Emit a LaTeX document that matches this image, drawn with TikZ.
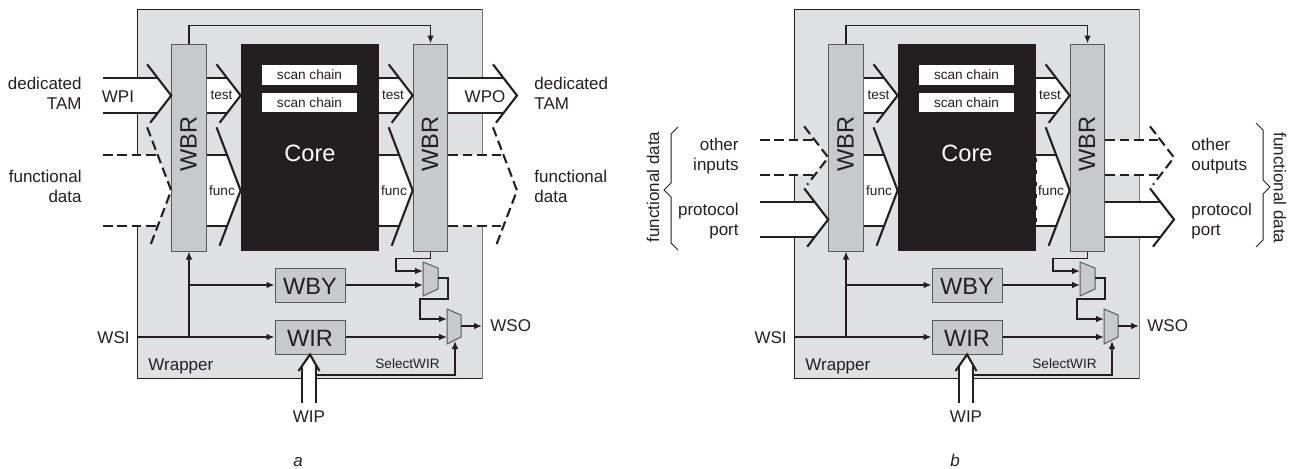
\documentclass[tikz,border=0pt]{standalone}
\usepackage{fontspec}
\setmainfont{Liberation Sans}
\usetikzlibrary{positioning, arrows.meta, calc}

\definecolor{ink}{HTML}{231F20}
\definecolor{wrapfill}{HTML}{DFE0E2}
\definecolor{regfill}{HTML}{C8C9CB}
\definecolor{regline}{HTML}{58595B}

\tikzset{
    lbl/.style={font=\fontsize{8.5}{10}\selectfont, text=ink, inner sep=0pt},
    tiny/.style={font=\fontsize{6.8}{8}\selectfont, text=ink, inner sep=0pt},
    big/.style={font=\fontsize{11.8}{14}\selectfont, text=ink, inner sep=0pt},
    reg/.style={draw=regline, fill=regfill, line width=0.5pt, inner sep=0pt},
    wbr/.style={reg, minimum width=17.3pt, minimum height=103.5pt},
    wb/.style={reg, minimum width=35pt, minimum height=17pt},
    chain/.style={fill=white, inner sep=0pt, minimum width=47.5pt, minimum height=9.8pt, tiny},
    sig/.style={draw=ink, line width=0.95pt, -{Latex[length=4pt,width=3.4pt]}},
    busline/.style={draw=ink, line width=1.05pt},
    dashbus/.style={dash pattern=on 4.8pt off 2.4pt},
    mux/.style={draw=regline, fill=regfill, line width=0.5pt, line join=miter},
}

% style, start, apex, top y, bottom y
\newcommand{\busarrow}[5]{
    \coordinate (busB) at (#3 |- 0,#4);
    \coordinate (busC) at (#3 |- 0,#5);
    \coordinate (busA) at ($(busB)!.5!(busC)$);
    \coordinate (busU) at ($(busB)+(-13.5,0)$);
    \coordinate (busL) at ($(busC)+(-13.5,0)$);
    \fill[white] (#2 |- busB) -- (busU) -- (busA) -- (busL) -- (#2 |- busC) -- cycle;
    \draw[busline,#1] (#2 |- busB) -- (busU) (#2 |- busC) -- (busL);
    \draw[busline,#1] ($(busA)!1.78!(busU)$) -- (busA) -- ($(busA)!1.556!(busL)$);
}

\newcommand{\wrapperpanel}[1]{
    \node[draw=ink, fill=wrapfill, line width=0.5pt, minimum width=172.5pt, minimum height=184.5pt, inner sep=0pt] (wrapper) at (309.5,193.5) {};
    \draw[regline!80, line width=0.6pt] (wrapper.north east) -- (wrapper.south east);
    \coordinate (leftEnd) at (103,0);
    \coordinate (rightApex) at (517,0);

    \node[wbr] (wbrL) at (189,147.5) {};
    \node[wbr] (wbrR) at (430.5,147.5) {};
    \node[fill=ink, inner sep=0pt, minimum width=69pt, minimum height=103.5pt] (core) at (310,147.5) {};
    \node[chain] (chainA) at (309.5,75) {scan chain};
    \node[chain] (chainB) at (309.5,102.5) {scan chain};
    \node[big, text=white] (coreText) at (310,153) {Core};
    \node[big, rotate=90] (wbrLtext) at (188.5,144) {WBR};
    \node[big, rotate=90] (wbrRtext) at (430,144) {WBR};

    % inner buses
    \busarrow{}{wbrL.east}{core.west}{78}{113}
    \busarrow{}{wbrL.east}{core.west}{155}{226}
    \busarrow{}{core.east}{wbrR.west}{78}{113}
    \busarrow{}{core.east}{wbrR.west}{155}{226}
    \node[tiny] (testL) at (221.5,95) {test};
    \node[tiny] (funcL) at (222,191) {func};
    \node[tiny] (testR) at (393,95) {test};
    \node[tiny] (funcR) at (394,191) {func};

    % scan path
    \draw[sig] (wbrL.north) -- ++(0,-18) -| (wbrR.north);
    \node[wb] (wby) at (310,285) {};
    \node[wb] (wir) at (310,337) {};
    \node[big] (wbyText) at (310,286) {WBY};
    \node[big] (wirText) at (310,338) {WIR};
    \node[lbl, anchor=east] (wsi) at (130,338) {WSI};
    \coordinate (wsiIn) at (137,337);
    \coordinate (busTap) at (wbrL.south |- wsiIn);

    \draw[mux] (423,262) -- (438,268) -- (438,289) -- (423,296) -- cycle;
    \draw[mux] (447,309) -- (461,315) -- (461,337) -- (447,344) -- cycle;
    \coordinate (muxAa) at (423,271);
    \coordinate (muxAb) at (423,285);
    \coordinate (muxAout) at (438,278);
    \coordinate (muxBa) at (447,319);
    \coordinate (muxBb) at (447,337);
    \coordinate (muxBout) at (461,326);
    \coordinate (muxBsel) at (455,341);

    \draw[sig] (wsiIn) -- (wir.west);
    \draw[sig] (busTap) -- (wbrL.south);
    \draw[sig] (busTap |- wby.west) -- (wby.west);
    \draw[sig] (wby.east) -- (muxAb);
    \draw[sig] (wir.east) -- (muxBb);
    \draw[sig] (wbrR.south) -- ++(0,7) -| (396,271) -- (muxAa);
    \draw[sig] (muxAout) -| (448,299) -| (420,319) -- (muxBa);
    \node[lbl, anchor=west] (wso) at (490,326) {WSO};
    \draw[sig] (muxBout) -- ($(wso.west)+(-8,0)$);

    % test control
    \node[lbl] (wip) at (309,417) {WIP};
    \coordinate (wipEnd) at (309,403);
    \fill[white] ($(wipEnd)+(-7,0)$) |- (302,371) -- (298.5,371) -- (wir.south) -- (319.5,371) -- (316,371) -- ($(wipEnd)+(7,0)$) -- cycle;
    \draw[busline] ($(wipEnd)+(-7,0)$) -- (302,365);
    \draw[busline] ($(wipEnd)+(7,0)$) -- (316,365);
    \draw[busline] (298.5,371) -- (wir.south) -- (319.5,371);
    \coordinate (selStart) at (316,375);
    \draw[sig] (selStart) -| (muxBsel);
    \node[tiny, anchor=west] (select) at (375,364) {SelectWIR};
    \node[lbl, anchor=west] (wrapperText) at (148,366) {Wrapper};
    \node[lbl, font=\fontsize{8.5}{10}\selectfont\itshape, anchor=base] (caption) at (298,466) {#1};
}

\begin{document}
\begin{tikzpicture}[x=0.5pt, y=-0.5pt]
    \useasboundingbox (0,0) rectangle (1290,468);

    \begin{scope}[name prefix=a-]
        \wrapperpanel{a}
        \busarrow{}{leftEnd}{wbrL.west}{78}{113}
        \busarrow{dashbus}{leftEnd}{wbrL.west}{155}{226}
        \busarrow{}{wbrR.east}{rightApex}{78}{113}
        \busarrow{dashbus}{wbrR.east}{rightApex}{155}{226}
        \node[lbl] (wpi) at (118,97) {WPI};
        \node[lbl] (wpo) at (485,97) {WPO};
        \node[lbl, align=right, anchor=east] (tamIn) at (82,93) {dedicated\\TAM};
        \node[lbl, align=right, anchor=east] (dataIn) at (82,186) {functional\\data};
        \node[lbl, align=left, anchor=west] (tamOut) at (534,93) {dedicated\\TAM};
        \node[lbl, align=left, anchor=west] (dataOut) at (534,186) {functional\\data};
    \end{scope}

    \begin{scope}[xshift=328.5pt, name prefix=b-]
        \wrapperpanel{b}
        \draw[ink, line width=0.7pt, dash pattern=on 2pt off 4pt] (core.east |- 0,158) -- (core.east |- 0,226);
        \busarrow{dashbus}{leftEnd}{wbrL.west}{140}{175}
        \busarrow{}{leftEnd}{wbrL.west}{202}{237}
        \busarrow{dashbus}{wbrR.east}{rightApex}{140}{175}
        \busarrow{}{wbrR.east}{rightApex}{202}{237}
        \node[lbl, align=right, anchor=east] (otherIn) at (82,156) {other\\inputs};
        \node[lbl, align=right, anchor=east] (portIn) at (82,221) {protocol\\port};
        \node[lbl, align=left, anchor=west] (otherOut) at (534,156) {other\\outputs};
        \node[lbl, align=left, anchor=west] (portOut) at (534,221) {protocol\\port};
        \draw[draw=ink, line width=0.5pt] (21,127) -- (14,134) -- (14,183) -- (7,190) -- (14,197) -- (14,243) -- (21,250);
        \draw[draw=ink, line width=0.5pt] (599,123) -- (606,130) -- (606,180) -- (613,187) -- (606,194) -- (606,240) -- (599,247);
        \node[lbl, rotate=90] (dataLeft) at (-4,187) {functional data};
        \node[lbl, rotate=-90] (dataRight) at (623,188) {functional data};
    \end{scope}
\end{tikzpicture}
\end{document}
